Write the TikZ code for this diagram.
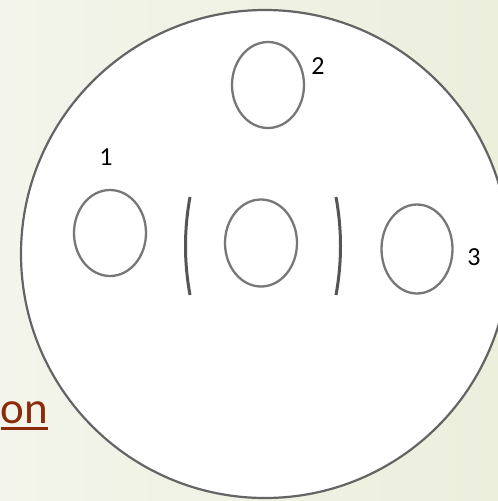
\documentclass[tikz,border=0pt]{standalone}
\usepackage{fontspec}
\setmainfont{Carlito}
\usetikzlibrary{shapes.geometric}
\definecolor{bgl}{HTML}{F3F4EB}
\definecolor{bgr}{HTML}{ECEFDC}
\definecolor{rim}{HTML}{646464}
\definecolor{ring}{HTML}{777777}
\definecolor{brk}{HTML}{555555}
\definecolor{linkred}{HTML}{8C2A0C}
\tikzset{
  ringshape/.style={ellipse, draw=ring, line width=2.3pt, inner sep=0pt},
  numlabel/.style={inner sep=0pt, text=black, font=\fontsize{26}{26}\selectfont},
  bracketline/.style={draw=brk, line width=3pt},
}
\begin{document}
\begin{tikzpicture}[x=1pt,y=-1pt]
\useasboundingbox (0,0) rectangle (498,501);
\shade[left color=bgl, right color=bgr] (0,0) rectangle (498,501);
% big disk
\node[circle, draw=rim, fill=white, line width=2.2pt, minimum size=488pt, inner sep=0pt] (disk) at (265,254) {};
% text fragment
\node[anchor=base west, inner sep=0pt, text=linkred, font=\fontsize{45}{45}\selectfont] (on) at (0.5,423) {on};
\draw[linkred, line width=2.2pt] (on.base west) ++(0,5.5) -- ++(47,0);
% ellipses
\node[ringshape, minimum width=72pt, minimum height=86pt] (e2) at (268,85) {};
\node[ringshape, minimum width=72pt, minimum height=86pt] (e1) at (110,233) {};
\node[ringshape, minimum width=72pt, minimum height=87pt] (e0) at (261,243) {};
\node[ringshape, minimum width=71pt, minimum height=89pt] (e3) at (417,249) {};
% brackets
\coordinate (lbt) at (190,197);
\coordinate (lbb) at (190,295);
\coordinate (rbt) at (336,197);
\coordinate (rbb) at (336,295);
\draw[bracketline] (lbt) .. controls (184,230) and (184,262) .. (lbb);
\draw[bracketline] (rbt) .. controls (342,230) and (342,262) .. (rbb);
% labels
\node[numlabel] (l1) at (106,157) {1};
\node[numlabel] (l2) at (318,66) {2};
\node[numlabel] (l3) at (474,257) {3};
\end{tikzpicture}
\end{document}
